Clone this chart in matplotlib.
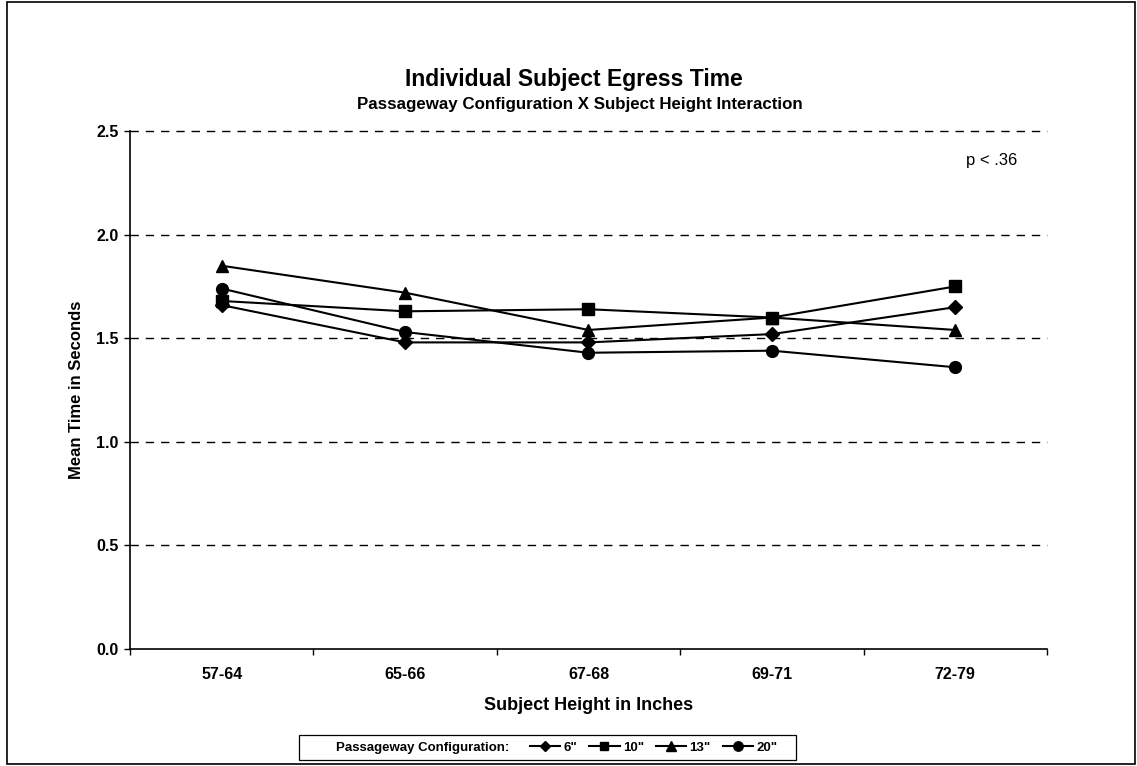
import matplotlib
matplotlib.use("Agg")
import matplotlib.pyplot as plt
from matplotlib.patches import Rectangle
from matplotlib.lines import Line2D

plt.rcParams['font.family'] = ['Liberation Sans', 'DejaVu Sans']

# data
heights = ["57-64", "65-66", "67-68", "69-71", "72-79"]
t_6 = [1.66, 1.48, 1.48, 1.52, 1.65]
t_10 = [1.68, 1.63, 1.64, 1.60, 1.75]
t_13 = [1.85, 1.72, 1.54, 1.60, 1.54]
t_20 = [1.74, 1.53, 1.43, 1.44, 1.36]
series_labels = ['6"', '10"', '13"', '20"']
y_ticks = [0.0, 0.5, 1.0, 1.5, 2.0, 2.5]

fig = plt.figure(figsize=(11.37, 7.66), dpi=100)
ax = fig.add_axes([0.1143, 0.1527, 0.8065, 0.6762])

x = list(range(len(heights)))
styles = [("D", 7), ("s", 8), ("^", 8.5), ("o", 8.5)]
handles = []
for ys, (m, ms), lab in zip([t_6, t_10, t_13, t_20], styles, series_labels):
    h, = ax.plot(x, ys, color="black", lw=1.5, marker=m, markersize=ms, label=lab)
    handles.append(h)

ax.set_xlim(-0.5, len(heights) - 0.5)
ax.set_ylim(0, 2.5)
ax.set_yticks(y_ticks)
ax.set_yticklabels(["%.1f" % v for v in y_ticks], fontsize=11.5, fontweight="bold")
ax.set_xticks(x)
ax.set_xticklabels(heights, fontsize=11.5, fontweight="bold")
ax.tick_params(axis="x", length=0, pad=13)
ax.tick_params(axis="y", length=4, width=1, direction="out", pad=4)
# small ticks at the category boundaries
ax.set_xticks([i - 0.5 for i in range(len(heights) + 1)], minor=True)
ax.tick_params(axis="x", which="minor", length=4, width=1, direction="out")

for v in y_ticks[1:]:
    ax.axhline(v, color="black", lw=1, ls=(0, (6, 5)), zorder=0, clip_on=False)

for s in ["top", "right"]:
    ax.spines[s].set_visible(False)
ax.spines["left"].set_linewidth(1.2)
ax.spines["bottom"].set_linewidth(1.2)

ax.set_ylabel("Mean Time in Seconds", fontsize=12, fontweight="bold", labelpad=9)
ax.set_xlabel("Subject Height in Inches", fontsize=13, fontweight="bold", labelpad=11)

fig.text(0.505, 0.8956, "Individual Subject Egress Time", ha="center", va="center",
         fontsize=16.5, fontweight="bold")
fig.text(0.51, 0.863, "Passageway Configuration X Subject Height Interaction",
         ha="center", va="center", fontsize=12.2, fontweight="bold")
fig.text(0.8725, 0.791, "p < .36", ha="center", va="center", fontsize=12)

# outer frame
fig.patches.append(Rectangle((7 / 1137, 2 / 766), 1128 / 1137, 762 / 766,
                             transform=fig.transFigure, fill=False, lw=1.2,
                             edgecolor="black"))

# legend box
fig.patches.append(Rectangle((299 / 1137, 6 / 766), 497 / 1137, 25 / 766,
                             transform=fig.transFigure, fill=False, lw=0.9,
                             edgecolor="black"))
fig.text(336 / 1137, 18.5 / 766, "Passageway Configuration:", ha="left", va="center",
         fontsize=9.5, fontweight="bold")
leg_handles = [Line2D([0], [0], color="black", lw=1.5, marker=h.get_marker(),
                      markersize=h.get_markersize() * 0.8) for h in handles]
fig.legend(leg_handles, series_labels, loc="center left",
           bbox_to_anchor=(530 / 1137, 18.5 / 766), ncol=4, frameon=False,
           prop={"size": 9.5, "weight": "bold"}, handlelength=2.3,
           handletextpad=0.25, columnspacing=0.9, borderpad=0, borderaxespad=0)

fig.savefig("out.png", dpi=100)
